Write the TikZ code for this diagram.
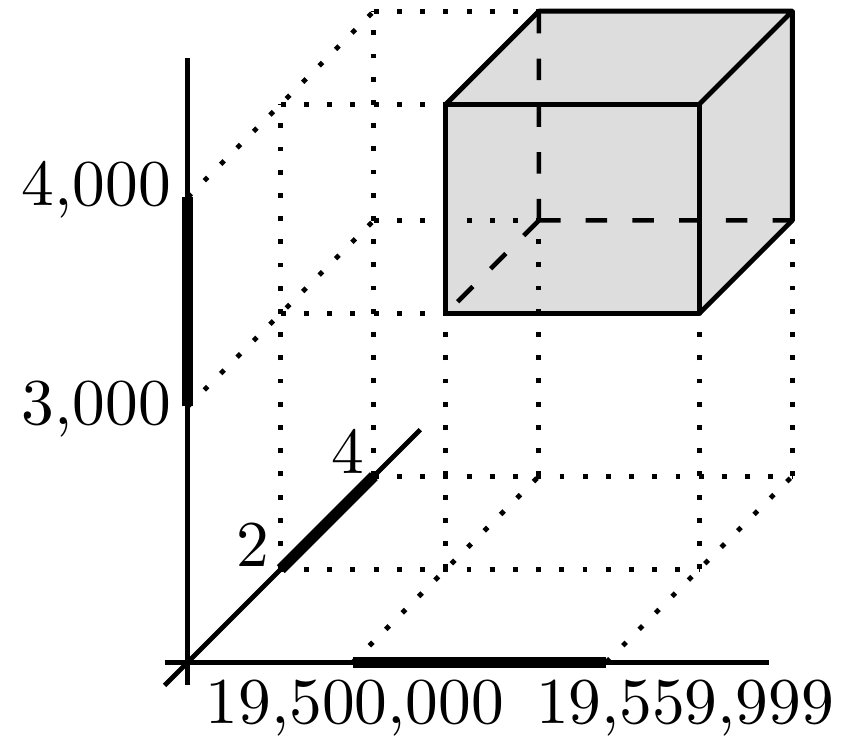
\documentclass[tikz,border=0pt]{standalone}
\usepackage{tikz}
\usetikzlibrary{calc}
\definecolor{boxgray}{RGB}{221,221,221}
\tikzset{
    axisline/.style={
        line width=0.75pt,
        black
    },
    thickbar/.style={
        line width=1.7pt,
        black
    },
    % dotted guide lines
    dotline/.style={
        line width=0.75pt,
        dash pattern=on 0.75pt off 2.8pt
    },
    hiddenline/.style={
        line width=0.7pt,
        dash pattern=on 3.3pt off 3.85pt
    },
    boxline/.style={
        line width=0.75pt,
        black,
        line join=round
    }
}

\begin{document}
\begin{tikzpicture}[scale=0.25, x={(1cm,0cm)}, y={(0cm,1cm)}, z={(1cm,1cm)}]
    \useasboundingbox (-4.04,-1.61) rectangle (14.39,14.24);

    \coordinate (O) at (0,0,0);
    % ground plane
    \coordinate (g1) at (3.55,0,0);
    \coordinate (g2) at (9,0,0);
    \coordinate (g3) at (3.55,0,2);
    \coordinate (g4) at (9,0,2);
    \coordinate (g5) at (3.55,0,4);
    \coordinate (g6) at (9,0,4);
    \coordinate (z2) at (0,0,2);
    \coordinate (z4) at (0,0,4);
    % left wall
    \coordinate (y1) at (0,5.5,0);
    \coordinate (y2) at (0,10,0);
    \coordinate (w1) at (0,5.5,2);
    \coordinate (w2) at (0,10,2);
    \coordinate (w3) at (0,5.5,4);
    \coordinate (w4) at (0,10,4);
    % the box
    \coordinate (f1) at (3.55,5.5,2);
    \coordinate (f2) at (9,5.5,2);
    \coordinate (f3) at (9,10,2);
    \coordinate (f4) at (3.55,10,2);
    \coordinate (k1) at (3.55,5.5,4);
    \coordinate (k2) at (9,5.5,4);
    \coordinate (k3) at (9,10,4);
    \coordinate (k4) at (3.55,10,4);

    \fill[boxgray] (f1) -- (f2) -- (k2) -- (k3) -- (k4) -- (f4) -- cycle;

    \draw[dotline] (g1) -- (g5) (g2) -- (g6);
    \draw[dotline] (z2) -- (g4) (z4) -- (g6);
    \draw[dotline] (y1) -- (w3) (y2) -- (w4);
    \draw[dotline] (z2) -- (w2) (z4) -- (w4);
    \draw[dotline] (w1) -- (f1) (w2) -- (f4) (w3) -- (k1) (w4) -- (k4);
    \draw[dotline] (g3) -- (f1) (g4) -- (f2) (g5) -- (k1) (g6) -- (k2);

    \draw[hiddenline] (k1) -- (k2) (k1) -- (k4) (k1) -- (f1);

    \draw[boxline] (f1) -- (f2) -- (f3) -- (f4) -- cycle;
    \draw[boxline] (f4) -- (k4) -- (k3) -- (f3);
    \draw[boxline] (f2) -- (k2) -- (k3);

    \draw[axisline] (0,-0.5) -- (0,13);
    \draw[axisline] (-0.5,0) -- (12.5,0);
    \draw[axisline] (0,0,-0.5) -- (0,0,5);

    \draw[thickbar] (y1) -- (y2);
    \draw[thickbar] (g1) -- (g2);
    \draw[thickbar] (z2) -- (z4);

    \node[anchor=base east, inner sep=0pt] (lbl4000) at (-0.34,9.83) {4,000};
    \node[anchor=base east, inner sep=0pt] (lbl3000) at (-0.34,5.12) {3,000};
    \node[anchor=base east, inner sep=0pt] (lbl2) at (1.78,2.06) {2};
    \node[anchor=base east, inner sep=0pt] (lbl4) at (3.81,4.06) {4};
    \node[anchor=base, inner sep=0pt] (lblxa) at (3.59,-1.31) {19,500,000};
    \node[anchor=base, inner sep=0pt] (lblxb) at (10.69,-1.31) {19,559,999};
\end{tikzpicture}
\end{document}
